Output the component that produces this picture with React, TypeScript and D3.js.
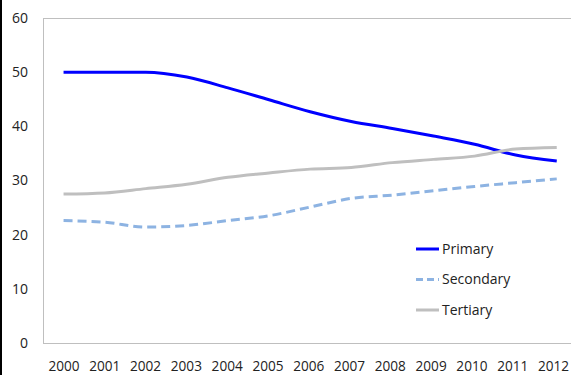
import React from "react";
import * as d3 from "d3";

const years = ["2000","2001","2002","2003","2004","2005","2006","2007","2008","2009","2010","2011","2012"];
const primary = [50, 50, 50, 49.1, 47.1, 44.9, 42.7, 40.9, 39.6, 38.2, 36.7, 34.7, 33.6];
const secondary = [22.6, 22.3, 21.4, 21.7, 22.6, 23.5, 25.1, 26.7, 27.3, 28.1, 28.9, 29.6, 30.3];
const tertiary = [27.5, 27.7, 28.5, 29.3, 30.6, 31.4, 32.1, 32.4, 33.3, 33.9, 34.5, 35.8, 36.1];
const yTicks = [0, 10, 20, 30, 40, 50, 60];

const seriesList = [
  { name: "Primary", values: primary, color: "#0000FF", dash: null },
  { name: "Secondary", values: secondary, color: "#8DB3E2", dash: "9,5" },
  { name: "Tertiary", values: tertiary, color: "#BFBFBF", dash: null },
];

const W = 571, H = 375;
const plotLeft = 43, plotTop = 18, plotBottom = 343;
const bandW = 41.1;
const plotRight = plotLeft + bandW * years.length;

export default function App() {
  React.useEffect(() => { document.body.style.margin = "0"; }, []);
  const x = d3.scaleBand<string>().domain(years).range([plotLeft, plotRight]);
  const xc = (y: string) => (x(y) as number) + x.bandwidth() / 2;
  const xLabel = d3.scalePoint<string>().domain(years).range([64, 553.5]);
  const y = d3.scaleLinear().domain([0, 60]).range([plotBottom, plotTop]);
  const line = d3.line<number>()
    .x((_, i) => xc(years[i]))
    .y((d) => y(d))
    .curve(d3.curveMonotoneX);
  const font = "'Open Sans', 'DejaVu Sans', sans-serif";
  const legendX = 416, legendY0 = 249, legendStep = 30.5;
  return (
    <svg width={W} height={H} style={{ display: "block" }}>
      <rect x={0} y={0} width={W} height={H} fill="#fff" />
      <rect x={0} y={0} width={2} height={H} fill="#000" />
      <line x1={plotLeft} x2={plotRight} y1={plotTop + 0.5} y2={plotTop + 0.5} stroke="#BFBFBF" />
      <line x1={plotLeft + 0.5} x2={plotLeft + 0.5} y1={plotTop} y2={plotBottom} stroke="#BFBFBF" />
      <line x1={plotLeft} x2={plotRight} y1={plotBottom + 0.5} y2={plotBottom + 0.5} stroke="#BFBFBF" />
      {yTicks.map((t) => (
        <text key={t} x={28} y={y(t)} dy="0.35em" textAnchor="end" fontFamily={font} fontSize={14} fill="#222">{t}</text>
      ))}
      {years.map((yr) => (
        <text key={yr} x={xLabel(yr)} y={366} dy="0.35em" textAnchor="middle" fontFamily={font} fontSize={13.6} fill="#222">{yr}</text>
      ))}
      {seriesList.map((s) => (
        <path key={s.name} d={line(s.values) || ""} fill="none" stroke={s.color} strokeWidth={3}
          strokeDasharray={s.dash || undefined} strokeLinejoin="round" />
      ))}
      {seriesList.map((s, i) => (
        <g key={s.name} transform={`translate(${legendX},${legendY0 + i * legendStep})`}>
          <line x1={0} x2={23} y1={0} y2={0} stroke={s.color} strokeWidth={3} strokeDasharray={s.dash ? "7,4" : undefined} />
          <text x={26} y={0} dy="0.35em" fontFamily={font} fontSize={14} fill="#222">{s.name}</text>
        </g>
      ))}
    </svg>
  );
}
